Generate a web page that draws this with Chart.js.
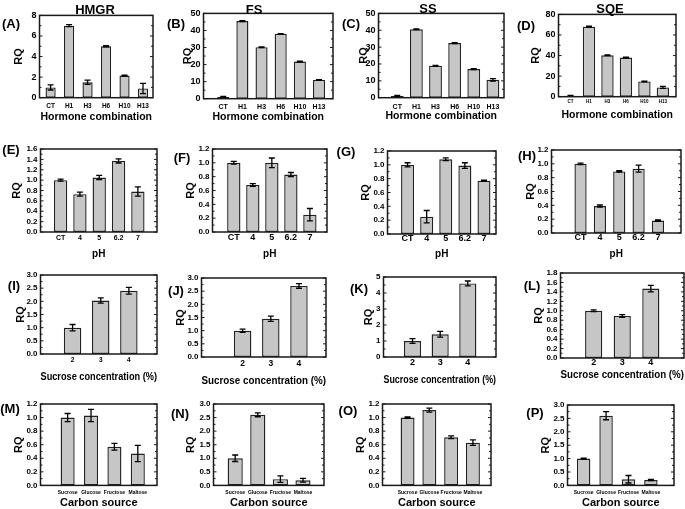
<!DOCTYPE html>
<html>
<head>
<meta charset="utf-8">
<script src="https://cdn.jsdelivr.net/npm/chart.js@4.4.0/dist/chart.umd.min.js"></script>
<style>
  body { margin: 0; background: #fff; }
  #fig { position: relative; width: 685px; height: 509px; overflow: hidden; background: #fff;
         font-family: "Liberation Sans", Arial, sans-serif; }
  #fig canvas { position: absolute; }
  .lbl { position: absolute; transform: translate(-50%, -50%); font-weight: bold; white-space: nowrap; color: #000; line-height: 1; }
</style>
</head>
<body>
<div id="fig"></div>
<script>
// categories
const hormoneLabels = ['CT', 'H1', 'H3', 'H6', 'H10', 'H13'];
const phLabels = ['CT', '4', '5', '6.2', '7'];
const sucroseLabels = ['2', '3', '4'];
const carbonLabels = ['Sucrose', 'Glucose', 'Fructose', 'Maltose'];

// RQ means and error bars
const hmgrHormone = [1.0, 7.0, 1.5, 5.0, 2.15, 0.9];
const hmgrHormoneErr = [0.25, 0.1, 0.2, 0.05, 0.05, 0.5];
const fsHormone = [1.0, 45.5, 30.2, 38.0, 21.8, 11.0];
const fsHormoneErr = [0.4, 0.3, 0.2, 0.2, 0.2, 0.2];
const ssHormone = [1.0, 40.6, 19.0, 32.4, 17.0, 10.6];
const ssHormoneErr = [0.3, 0.2, 0.2, 0.3, 0.3, 0.7];
const sqeHormone = [1.0, 68.0, 40.3, 38.0, 14.8, 9.0];
const sqeHormoneErr = [0.3, 0.5, 0.3, 0.5, 0.3, 1.0];

const hmgrPh = [1.0, 0.73, 1.05, 1.37, 0.78];
const hmgrPhErr = [0.02, 0.04, 0.04, 0.04, 0.09];
const fsPh = [1.0, 0.68, 1.0, 0.83, 0.25];
const fsPhErr = [0.02, 0.02, 0.07, 0.03, 0.09];
const ssPh = [1.0, 0.25, 1.08, 0.99, 0.77];
const ssPhErr = [0.03, 0.09, 0.02, 0.04, 0.01];
const sqePh = [1.0, 0.39, 0.89, 0.93, 0.18];
const sqePhErr = [0.01, 0.015, 0.01, 0.05, 0.01];

const hmgrSucrose = [1.0, 2.03, 2.4];
const hmgrSucroseErr = [0.12, 0.1, 0.13];
const fsSucrose = [1.0, 1.45, 2.7];
const fsSucroseErr = [0.06, 0.1, 0.09];
const ssSucrose = [1.0, 1.42, 4.6];
const ssSucroseErr = [0.15, 0.18, 0.15];
const sqeSucrose = [1.0, 0.89, 1.47];
const sqeSucroseErr = [0.02, 0.03, 0.07];

const hmgrCarbon = [1.0, 1.03, 0.57, 0.47];
const hmgrCarbonErr = [0.06, 0.09, 0.05, 0.12];
const fsCarbon = [1.0, 2.6, 0.23, 0.19];
const fsCarbonErr = [0.12, 0.07, 0.12, 0.07];
const ssCarbon = [1.0, 1.11, 0.71, 0.63];
const ssCarbonErr = [0.01, 0.03, 0.02, 0.04];
const sqeCarbon = [1.0, 2.6, 0.23, 0.2];
const sqeCarbonErr = [0.02, 0.15, 0.14, 0.02];

const FONT = '"Liberation Sans", Arial, sans-serif';
Chart.defaults.font.family = FONT;
Chart.defaults.color = '#000';

// panel layout: box = plot frame [left, top, right, bottom] in page px
const panels = [
  { letter: '(A)', letterAt: [11, 23], title: 'HMGR', titleAt: [95, 9], labels: hormoneLabels, values: hmgrHormone, errors: hmgrHormoneErr,
    yMax: 8, yStep: 2, dec: 0, box: [39, 15, 152, 98], xRange: [-0.6, 5.54], bar: 0.55, rqGap: 21, yFont: 9,
    xFont: 6.5, xTickY: 107, xTitle: 'Hormone combination', xTitleSize: 10.5, xTitleY: 117 },
  { letter: '(B)', letterAt: [176, 23], title: 'FS', titleAt: [254, 9], labels: hormoneLabels, values: fsHormone, errors: fsHormoneErr,
    yMax: 50, yStep: 10, dec: 0, box: [203, 13, 332, 99], xRange: [-1.03, 5.73], bar: 0.63, rqGap: 16, yFont: 9,
    xFont: 7, xTickY: 107, xTitle: 'Hormone combination', xTitleSize: 10.5, xTitleY: 117 },
  { letter: '(C)', letterAt: [351, 23], title: 'SS', titleAt: [428, 8], labels: hormoneLabels, values: ssHormone, errors: ssHormoneErr,
    yMax: 50, yStep: 10, dec: 0, box: [378, 13, 503, 98], xRange: [-0.98, 5.58], bar: 0.67, rqGap: 15, yFont: 9,
    xFont: 7, xTickY: 107, xTitle: 'Hormone combination', xTitleSize: 10.5, xTitleY: 116 },
  { letter: '(D)', letterAt: [526, 25], title: 'SQE', titleAt: [610, 8], labels: hormoneLabels, values: sqeHormone, errors: sqeHormoneErr,
    yMax: 80, yStep: 20, dec: 0, box: [558, 14, 675, 97], xRange: [-0.65, 5.71], bar: 0.67, rqGap: 23, yFont: 9,
    xFont: 4.5, xTickY: 102, xTitle: 'Hormone combination', xTitleSize: 10.5, xTitleY: 115 },

  { letter: '(E)', letterAt: [11, 149], labels: phLabels, values: hmgrPh, errors: hmgrPhErr,
    yMax: 1.6, yStep: 0.2, dec: 1, box: [40, 149, 156, 232], xRange: [-1.04, 4.99], bar: 0.69, rqGap: 24, yFont: 8,
    xFont: 7, xTickY: 238, xTitle: 'pH', xTitleSize: 10, xTitleY: 254 },
  { letter: '(F)', letterAt: [182, 157], labels: phLabels, values: fsPh, errors: fsPhErr,
    yMax: 1.2, yStep: 0.2, dec: 1, box: [212, 149, 326, 232], xRange: [-1.12, 4.9], bar: 0.7, rqGap: 22, yFont: 8,
    xFont: 9, xTickY: 238, xTitle: 'pH', xTitleSize: 10, xTitleY: 254 },
  { letter: '(G)', letterAt: [346, 151], labels: phLabels, values: ssPh, errors: ssPhErr,
    yMax: 1.2, yStep: 0.2, dec: 1, box: [387, 151, 495, 234], xRange: [-1.05, 4.63], bar: 0.68, rqGap: 22, yFont: 8,
    xFont: 9, xTickY: 239, xTitle: 'pH', xTitleSize: 10, xTitleY: 254 },
  { letter: '(H)', letterAt: [527, 155], labels: phLabels, values: sqePh, errors: sqePhErr,
    yMax: 1.2, yStep: 0.2, dec: 1, box: [551, 150, 680, 233], xRange: [-1.5, 5.19], bar: 0.63, rqGap: 21, yFont: 8,
    xFont: 9, xTickY: 238, xTitle: 'pH', xTitleSize: 10, xTitleY: 254 },

  { letter: '(I)', letterAt: [14, 285], labels: sucroseLabels, values: hmgrSucrose, errors: hmgrSucroseErr,
    yMax: 3, yStep: 0.5, dec: 1, box: [40, 275, 156, 354], xRange: [-1.14, 3.0], bar: 0.62, rqGap: 20, yFont: 8,
    xFont: 6.5, xTickY: 360, xTitle: 'Sucrose concentration (%)', xTitleSize: 10, xTitleY: 377 },
  { letter: '(J)', letterAt: [176, 290], labels: sucroseLabels, values: fsSucrose, errors: fsSucroseErr,
    yMax: 3, yStep: 0.5, dec: 1, box: [201, 278, 325, 357], xRange: [-1.46, 2.96], bar: 0.62, rqGap: 21, yFont: 8,
    xFont: 8.5, xTickY: 364, xTitle: 'Sucrose concentration (%)', xTitleSize: 10, xTitleY: 381 },
  { letter: '(K)', letterAt: [359, 288], labels: sucroseLabels, values: ssSucrose, errors: ssSucroseErr,
    yMax: 5, yStep: 1, dec: 0, box: [383, 277, 495, 357], xRange: [-1.05, 3.02], bar: 0.62, rqGap: 15, yFont: 8,
    xFont: 9, xTickY: 363, xTitle: 'Sucrose concentration (%)', xTitleSize: 10, xTitleY: 380 },
  { letter: '(L)', letterAt: [532, 285], labels: sucroseLabels, values: sqeSucrose, errors: sqeSucroseErr,
    yMax: 1.8, yStep: 0.2, dec: 1, box: [560, 273, 683, 358], xRange: [-1.16, 3.16], bar: 0.6, rqGap: 22, yFont: 8,
    xFont: 9, xTickY: 363, xTitle: 'Sucrose concentration (%)', xTitleSize: 10, xTitleY: 375 },

  { letter: '(M)', letterAt: [10, 408], labels: carbonLabels, values: hmgrCarbon, errors: hmgrCarbonErr,
    yMax: 1.2, yStep: 0.2, dec: 1, box: [40, 404, 156, 485], xRange: [-1.16, 3.82], bar: 0.6, rqGap: 22, yFont: 8,
    xFont: 5, xTickY: 492, xTitle: 'Carbon source', xTitleSize: 11, xTitleY: 503 },
  { letter: '(N)', letterAt: [180, 413], labels: carbonLabels, values: fsCarbon, errors: fsCarbonErr,
    yMax: 3, yStep: 0.5, dec: 1, box: [213, 404, 323, 485], xRange: [-0.96, 3.93], bar: 0.67, rqGap: 23, yFont: 8,
    xFont: 5, xTickY: 492, xTitle: 'Carbon source', xTitleSize: 11, xTitleY: 503 },
  { letter: '(O)', letterAt: [348, 410], labels: carbonLabels, values: ssCarbon, errors: ssCarbonErr,
    yMax: 1.2, yStep: 0.2, dec: 1, box: [382, 404, 490, 485], xRange: [-1.15, 3.83], bar: 0.64, rqGap: 22, yFont: 8,
    xFont: 5, xTickY: 492, xTitle: 'Carbon source', xTitleSize: 11, xTitleY: 503 },
  { letter: '(P)', letterAt: [535, 412], labels: carbonLabels, values: sqeCarbon, errors: sqeCarbonErr,
    yMax: 3, yStep: 0.5, dec: 1, box: [567, 405, 673, 485], xRange: [-0.72, 4.03], bar: 0.6, rqGap: 22, yFont: 8,
    xFont: 5, xTickY: 492, xTitle: 'Carbon source', xTitleSize: 11, xTitleY: 503 }
];

// error bars drawn from the y scale
const errorBars = {
  id: 'errorBars',
  afterDatasetsDraw(chart) {
    const ctx = chart.ctx;
    const y = chart.scales.y;
    chart.data.datasets.forEach((ds, di) => {
      chart.getDatasetMeta(di).data.forEach((bar, i) => {
        const v = ds.data[i].y;
        const e = ds.errors[i];
        const top = y.getPixelForValue(v + e);
        const bot = y.getPixelForValue(Math.max(v - e, 0));
        ctx.save();
        ctx.strokeStyle = '#000';
        ctx.lineWidth = 1.3;
        ctx.beginPath();
        ctx.moveTo(bar.x, top); ctx.lineTo(bar.x, bot);
        ctx.moveTo(bar.x - 3, top); ctx.lineTo(bar.x + 3, top);
        ctx.moveTo(bar.x - 3, bot); ctx.lineTo(bar.x + 3, bot);
        ctx.stroke();
        ctx.restore();
      });
    });
  }
};

// closed frame with inward ticks on both sides
const frame = {
  id: 'frame',
  afterDraw(chart) {
    const {ctx, chartArea: a} = chart;
    const y = chart.scales.y;
    const step = chart.options.scales.y.ticks.stepSize;
    ctx.save();
    ctx.strokeStyle = '#1a1a1a';
    ctx.lineWidth = 1.5;
    ctx.strokeRect(a.left, a.top, a.right - a.left, a.bottom - a.top);
    ctx.lineWidth = 1;
    ctx.beginPath();
    y.ticks.forEach(t => {
      const py = y.getPixelForValue(t.value);
      ctx.moveTo(a.left, py); ctx.lineTo(a.left + 3, py);
      ctx.moveTo(a.right, py); ctx.lineTo(a.right - 3, py);
      const pm = y.getPixelForValue(t.value + step / 2);
      if (pm > a.top) {
        ctx.moveTo(a.left, pm); ctx.lineTo(a.left + 2, pm);
        ctx.moveTo(a.right, pm); ctx.lineTo(a.right - 2, pm);
      }
    });
    ctx.stroke();
    ctx.restore();
  }
};

const fig = document.getElementById('fig');

function addText(text, at, size) {
  const d = document.createElement('div');
  d.className = 'lbl';
  d.textContent = text;
  d.style.left = at[0] + 'px';
  d.style.top = at[1] + 'px';
  d.style.fontSize = size + 'px';
  fig.appendChild(d);
}

function makePanel(p) {
  const [l, t, r, b] = p.box;
  const yw = p.rqGap + 6.5;
  const padTop = 8;
  const padRight = 6;
  const xh = p.xTitleY - b + p.xTitleSize * 0.6;
  const W = Math.round(r - l + yw + padRight);
  const H = Math.round(b - t + padTop + xh);

  const cv = document.createElement('canvas');
  cv.width = W;
  cv.height = H;
  cv.style.left = (l - yw) + 'px';
  cv.style.top = (t - padTop) + 'px';
  cv.style.width = W + 'px';
  cv.style.height = H + 'px';
  fig.appendChild(cv);

  new Chart(cv, {
    type: 'bar',
    data: {
      datasets: [{
        data: p.labels.map((_, i) => ({x: i, y: p.values[i]})),
        errors: p.errors,
        backgroundColor: '#c6c6c6',
        borderColor: '#222',
        borderWidth: 1.4,
        borderSkipped: false,
        barPercentage: p.bar,
        categoryPercentage: 1
      }]
    },
    options: {
      responsive: false,
      animation: false,
      layout: { padding: { top: padTop, right: padRight, left: 0, bottom: 0 } },
      plugins: { legend: { display: false }, tooltip: { enabled: false } },
      scales: {
        x: {
          type: 'linear',
          bounds: 'data',
          min: p.xRange[0],
          max: p.xRange[1],
          offset: false,
          grid: { display: false, drawTicks: false },
          border: { display: false },
          afterBuildTicks: s => { s.ticks = p.labels.map((_, i) => ({value: i})); },
          afterFit: s => { s.height = xh; },
          ticks: {
            autoSkip: false,
            maxRotation: 0,
            padding: p.xTickY - b - p.xFont * 0.6,
            font: { size: p.xFont, weight: 'bold' },
            callback: v => p.labels[v]
          },
          title: {
            display: true,
            text: p.xTitle,
            padding: 0,
            font: { size: p.xTitleSize, weight: 'bold' }
          }
        },
        y: {
          min: 0,
          max: p.yMax,
          grid: { display: false, drawTicks: false },
          border: { display: false },
          afterFit: s => { s.width = yw; },
          ticks: {
            stepSize: p.yStep,
            autoSkip: false,
            padding: 3,
            font: { size: p.yFont, weight: 'bold' },
            callback: v => Number(v).toFixed(p.dec)
          },
          title: {
            display: true,
            text: 'RQ',
            padding: 0,
            font: { size: 11, weight: 'bold' }
          }
        }
      }
    },
    plugins: [errorBars, frame]
  });

  addText(p.letter, p.letterAt, 13);
  if (p.title) addText(p.title, p.titleAt, 13);
}

panels.forEach(makePanel);
</script>
</body>
</html>
